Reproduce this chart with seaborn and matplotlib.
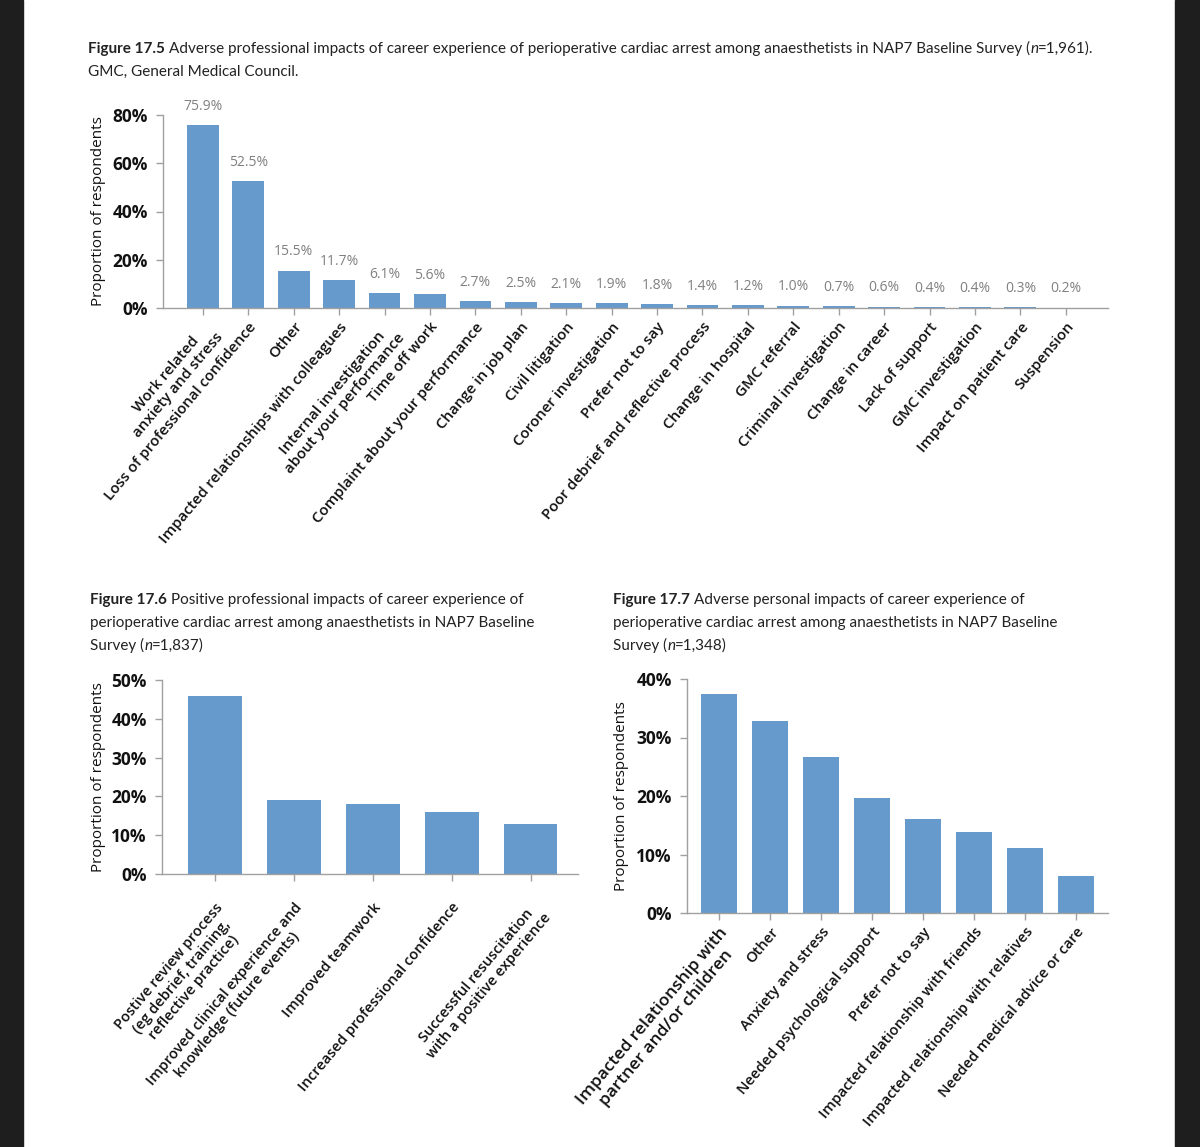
import numpy as np
import pandas as pd
import matplotlib
matplotlib.use("Agg")
import matplotlib.pyplot as plt
import seaborn as sns
from matplotlib.patches import Rectangle
from matplotlib.text import Annotation
from matplotlib.ticker import FuncFormatter

W, H = 1200, 1147
BAR = "#6699cc"
SPINE = "#a0a0a0"
TITLE_FONT = "Lato"
LABEL_FONT = "Open Sans"
ROT = 50

# Figure 17.5 - adverse professional impacts
adv_prof_labels = [
    "Work related\nanxiety and stress", "Loss of professional confidence", "Other",
    "Impacted relationships with colleagues",
    "Internal investigation\nabout your performance", "Time off work",
    "Complaint about your performance", "Change in job plan", "Civil litigation",
    "Coroner investigation", "Prefer not to say", "Poor debrief and reflective process",
    "Change in hospital", "GMC referral", "Criminal investigation", "Change in career",
    "Lack of support", "GMC investigation", "Impact on patient care", "Suspension",
]
adv_prof_values = [75.9, 52.5, 15.5, 11.7, 6.1, 5.6, 2.7, 2.5, 2.1, 1.9,
                   1.8, 1.4, 1.2, 1.0, 0.7, 0.6, 0.4, 0.4, 0.3, 0.2]

# Figure 17.6 - positive professional impacts
pos_prof_labels = [
    "Postive review process\n(eg debrief, training,\nreflective practice)",
    "Improved clinical experience and\nknowledge (future events)",
    "Improved teamwork",
    "Increased professional confidence",
    "Successful resuscitation\nwith a positive experience",
]
pos_prof_values = [46.0, 19.0, 18.0, 16.0, 13.0]

# Figure 17.7 - adverse personal impacts
adv_pers_labels = [
    "Impacted relationship with\npartner and/or children", "Other", "Anxiety and stress",
    "Needed psychological support", "Prefer not to say",
    "Impacted relationship with friends", "Impacted relationship with relatives",
    "Needed medical advice or care",
]
adv_pers_values = [37.4, 32.9, 26.6, 19.7, 16.1, 13.9, 11.1, 6.4]

sns.set_theme(style="white")
plt.rcParams.update({
    "figure.facecolor": "white",
    "axes.facecolor": "white",
    "font.family": [LABEL_FONT, "DejaVu Sans"],
})

fig = plt.figure(figsize=(W / 100, H / 100), dpi=100)

# dark page margins of the screenshot
fig.patches.append(Rectangle((0, 0), 23 / W, 1, transform=fig.transFigure,
                             color="#1e1e1e", zorder=-1))
fig.patches.append(Rectangle((1175 / W, 0), 25 / W, 1, transform=fig.transFigure,
                             color="#1e1e1e", zorder=-1))


def px_axes(left, top, right, bottom):
    return fig.add_axes([left / W, 1 - bottom / H, (right - left) / W, (bottom - top) / H])


def rich_line(x, y, parts, size=11):
    # parts: list of (text, weight, style, gap_before_pt)
    prev = None
    for text, weight, style, gap in parts:
        kw = dict(fontsize=size, fontweight=weight, fontstyle=style,
                  family=TITLE_FONT, color="#222222")
        if prev is None:
            prev = fig.text(x / W, 1 - y / H, text, ha="left", va="bottom", **kw)
        else:
            ann = Annotation(text, xy=(1, 0), xycoords=prev, xytext=(gap, 0),
                             textcoords="offset points", ha="left", va="bottom", **kw)
            fig.add_artist(ann)
            prev = ann


def style_axes(ax, labels, ymax, step, xlim, label_size, ylab_x, xpad=3.5):
    ax.set_xlim(*xlim)
    ax.set_ylim(0, ymax)
    ax.set_yticks(np.arange(0, ymax + 0.1, step))
    ax.yaxis.set_major_formatter(FuncFormatter(lambda v, _: f"{v:.0f}%"))
    for side in ["top", "right"]:
        ax.spines[side].set_visible(False)
    for side in ["left", "bottom"]:
        ax.spines[side].set_color(SPINE)
        ax.spines[side].set_linewidth(1)
    ax.tick_params(axis="both", direction="out", length=5, width=1, color=SPINE,
                   bottom=True, left=True)
    ax.tick_params(axis="y", labelsize=12.5, pad=6)
    ax.tick_params(axis="x", pad=xpad)
    for t in ax.get_yticklabels():
        t.set_fontweight("bold")
        t.set_color("#111111")
    ax.set_xticks(range(len(labels)))
    ax.set_xticklabels(labels, rotation=ROT, ha="right", rotation_mode="anchor",
                       fontsize=label_size, fontweight="semibold",
                       multialignment="center", color="#111111")
    ax.set_xlabel("")
    ax.set_ylabel("Proportion of respondents", fontsize=11, color="#111111")
    ax.yaxis.set_label_coords(ylab_x, 0.5)


# ---- Figure 17.5
rich_line(88, 56, [("Figure 17.5", "bold", "normal", 0),
                   ("Adverse professional impacts of career experience of perioperative "
                    "cardiac arrest among anaesthetists in NAP7 Baseline Survey (",
                    "normal", "normal", 3),
                   ("n", "normal", "italic", 0),
                   ("=1,961).", "normal", "normal", 0)])
rich_line(88, 79, [("GMC, General Medical Council.", "normal", "normal", 0)])

ax1 = px_axes(163, 115, 1108, 308)
sns.barplot(x=list(range(len(adv_prof_values))), y=adv_prof_values, color=BAR,
            saturation=1, width=0.70, linewidth=0, ax=ax1)
ax1.bar_label(ax1.containers[0], labels=[f"{v:.1f}%" for v in adv_prof_values],
              padding=8, color="#808080", fontsize=10)
style_axes(ax1, adv_prof_labels, 80, 20, (-0.88, 19.93), 10.8, (106 - 163) / 945)

# ---- Figure 17.6
rich_line(90, 607, [("Figure 17.6", "bold", "normal", 0),
                    ("Positive professional impacts of career experience of",
                     "normal", "normal", 3)])
rich_line(90, 630, [("perioperative cardiac arrest among anaesthetists in NAP7 Baseline",
                     "normal", "normal", 0)])
rich_line(90, 653, [("Survey (", "normal", "normal", 0), ("n", "normal", "italic", 0),
                    ("=1,837)", "normal", "normal", 0)])

ax2 = px_axes(162, 680, 578, 874)
sns.barplot(x=list(range(len(pos_prof_values))), y=pos_prof_values, color=BAR,
            saturation=1, width=0.68, linewidth=0, ax=ax2)
style_axes(ax2, pos_prof_labels, 50, 10, (-0.67, 4.6), 10.5, (106 - 162) / 416, xpad=14)

# ---- Figure 17.7
rich_line(613, 607, [("Figure 17.7", "bold", "normal", 0),
                     ("Adverse personal impacts of career experience of",
                      "normal", "normal", 3)])
rich_line(613, 630, [("perioperative cardiac arrest among anaesthetists in NAP7 Baseline",
                      "normal", "normal", 0)])
rich_line(613, 653, [("Survey (", "normal", "normal", 0), ("n", "normal", "italic", 0),
                     ("=1,348)", "normal", "normal", 0)])

ax3 = px_axes(687, 679, 1108, 913)
sns.barplot(x=list(range(len(adv_pers_values))), y=adv_pers_values, color=BAR,
            saturation=1, width=0.72, linewidth=0, ax=ax3)
style_axes(ax3, adv_pers_labels, 40, 10, (-0.63, 7.63), 10.5, (629 - 687) / 421)
ax3.get_xticklabels()[0].set_fontsize(12.5)

fig.savefig("out.png", dpi=100, facecolor="white")
